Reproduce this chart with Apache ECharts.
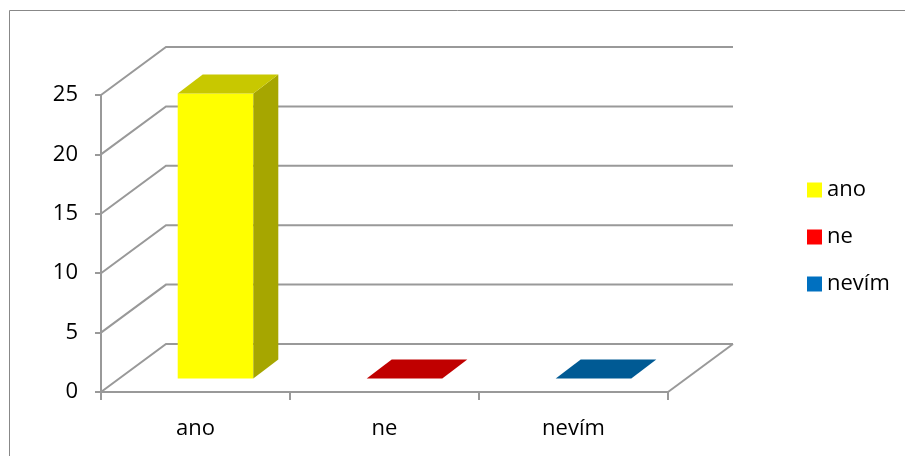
<!DOCTYPE html>
<html>
<head>
<meta charset="utf-8">
<script src="https://cdn.jsdelivr.net/npm/echarts@6/dist/echarts.min.js"></script>
<style>
html,body{margin:0;padding:0;background:#fff;}
#chart{width:905px;height:456px;}
</style>
</head>
<body>
<div id="chart"></div>
<script>
// ---- data ----
const categories = ['ano', 'ne', 'nevím'];
const values = [24, 0, 0];
const yTicks = [0, 5, 10, 15, 20, 25];

// ---- style ----
const frontColors = ['#FFFF00', '#FF0000', '#0070C0'];
const topColors = ['#C8C800', '#C00000', '#005A94'];
const sideColors = ['#A6A600', '#A00000', '#004A7A'];
const gridColor = '#999999';
const FONT = '"Open Sans", sans-serif';
const FS = 22;
const WALL_DX = 65, WALL_DY = 48;
const BAR_F_DX = 20, BAR_F_DY = 13.5;
const BAR_B_DX = 45, BAR_B_DY = 32.5;
const BAR_FRAC = 0.40;

const chart = echarts.init(document.getElementById('chart'));

function wallRender(params, api) {
  const v = api.value(1);
  const bw = api.size([1, 0])[0];
  const p0 = api.coord([0, v]);
  const pN = api.coord([categories.length - 1, v]);
  const xL = p0[0] - bw / 2;
  const xR = pN[0] + bw / 2;
  const y = p0[1];
  const children = [{
    type: 'polyline',
    shape: { points: [[xL, y], [xL + WALL_DX, y - WALL_DY], [xR + WALL_DX, y - WALL_DY]] },
    style: { stroke: gridColor, lineWidth: 2, fill: null }
  }];
  if (v === 0) {
    children.push({
      type: 'polyline',
      shape: { points: [[xR + WALL_DX, y - WALL_DY], [xR, y]] },
      style: { stroke: gridColor, lineWidth: 2, fill: null }
    });
  }
  return { type: 'group', children: children };
}

function barRender(params, api) {
  const i = api.value(0);
  const v = api.value(1);
  const bw = api.size([1, 0])[0] * BAR_FRAC;
  const top = api.coord([i, v]);
  const base = api.coord([i, 0]);
  const xl = top[0] - bw / 2 + BAR_F_DX;
  const xr = top[0] + bw / 2 + BAR_F_DX;
  const yt = top[1] - BAR_F_DY;
  const yb = base[1] - BAR_F_DY;
  const ddx = BAR_B_DX - BAR_F_DX, ddy = BAR_B_DY - BAR_F_DY;
  const children = [];
  if (yb - yt > 0.5) {
    children.push({
      type: 'rect', shape: { x: xl, y: yt, width: xr - xl, height: yb - yt },
      style: { fill: frontColors[i] }
    });
    children.push({
      type: 'polygon',
      shape: { points: [[xr, yt], [xr + ddx, yt - ddy], [xr + ddx, yb - ddy], [xr, yb]] },
      style: { fill: sideColors[i] }
    });
  }
  children.push({
    type: 'polygon',
    shape: { points: [[xl, yt], [xl + ddx, yt - ddy], [xr + ddx, yt - ddy], [xr, yt]] },
    style: { fill: topColors[i] }
  });
  return { type: 'group', children: children };
}

const barSeries = categories.map((c, i) => ({
  name: c,
  type: 'custom',
  renderItem: barRender,
  data: [[i, values[i]]],
  itemStyle: { color: frontColors[i] },
  z: 5,
  silent: true
}));

chart.setOption({
  animation: false,
  backgroundColor: '#ffffff',
  textStyle: { fontFamily: FONT },
  grid: { left: 101, right: 237, top: 95, bottom: 64 },
  graphic: [{
    type: 'rect',
    shape: { x: 9.5, y: 10.5, width: 1000, height: 1000 },
    style: { fill: null, stroke: '#888888', lineWidth: 1 },
    z: 0
  }],
  legend: {
    data: categories,
    orient: 'vertical',
    left: 802,
    top: 174,
    icon: 'rect',
    itemWidth: 15,
    itemHeight: 15,
    itemGap: 25,
    textStyle: { fontSize: FS, color: '#000', fontFamily: FONT }
  },
  xAxis: {
    type: 'category',
    data: categories,
    boundaryGap: true,
    axisLine: { show: true, lineStyle: { color: gridColor, width: 2 } },
    axisTick: { show: true, length: 8, lineStyle: { color: gridColor, width: 2 } },
    axisLabel: { fontSize: FS, color: '#000', margin: 26, fontFamily: FONT },
    splitLine: { show: false }
  },
  yAxis: {
    type: 'value',
    min: 0, max: 25, interval: 5,
    axisLine: { show: true, lineStyle: { color: gridColor, width: 2 } },
    axisTick: { show: true, length: 6, lineStyle: { color: gridColor, width: 2 } },
    axisLabel: { fontSize: FS, color: '#000', margin: 23, fontFamily: FONT },
    splitLine: { show: false }
  },
  series: [{
    type: 'custom',
    name: '_walls',
    renderItem: wallRender,
    data: yTicks.map(t => [0, t]),
    z: 1,
    silent: true
  }].concat(barSeries)
});
</script>
</body>
</html>
